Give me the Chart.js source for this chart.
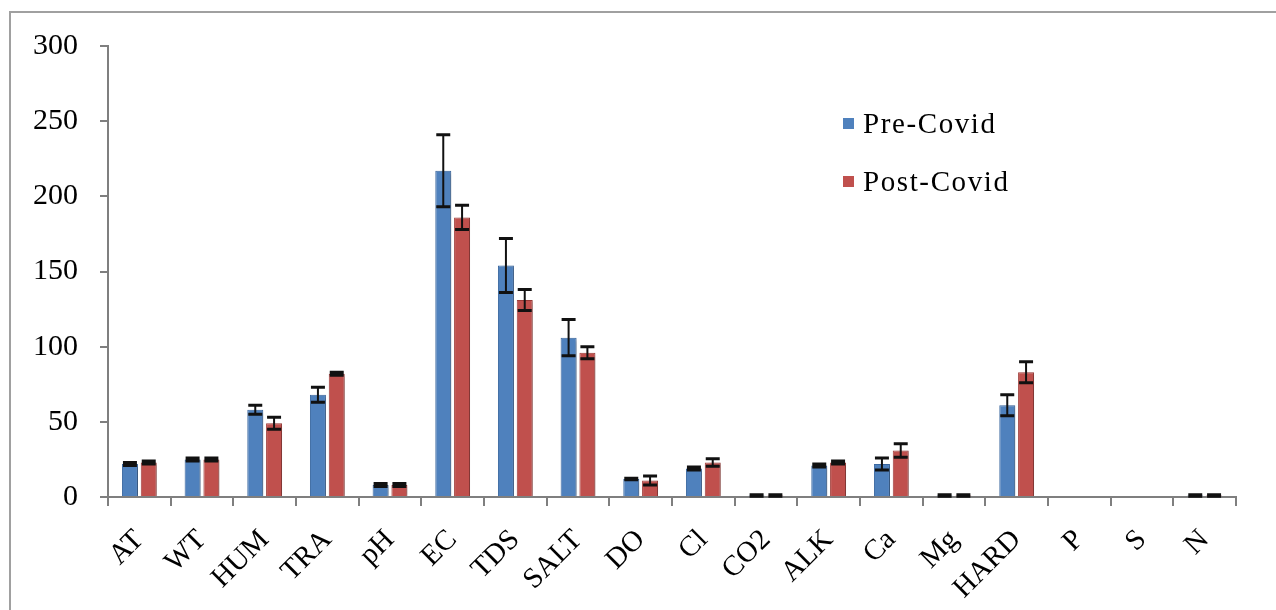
<!DOCTYPE html>
<html>
<head>
<meta charset="utf-8">
<script src="https://cdn.jsdelivr.net/npm/chart.js@4/dist/chart.umd.min.js"></script>
<style>
  html, body { margin: 0; padding: 0; background: #fff; overflow: hidden; }
  #wrap { position: relative; width: 1276px; height: 610px; }
  #frame { position: absolute; left: 9px; top: 11px; width: 1300px; height: 700px; border: 2px solid #a0a0a0; box-sizing: border-box; }
  #chart { position: absolute; left: 0; top: 0; }
  .legend { position: absolute; left: 843px; font-family: "Liberation Serif", "Times New Roman", serif; font-size: 29px; letter-spacing: 1.6px; color: #000; }
  .legend span.box { display: inline-block; width: 11px; height: 11px; margin-right: 9px; vertical-align: 4px; }
</style>
</head>
<body>
<div id="wrap">
  <div id="frame"></div>
  <canvas id="chart" width="1276" height="610"></canvas>
  <div class="legend" style="top:107px"><span class="box" style="background:#4f81bd"></span>Pre-Covid</div>
  <div class="legend" style="top:165px"><span class="box" style="background:#c0504d"></span>Post-Covid</div>
</div>
<script>
const categories = ["AT", "WT", "HUM", "TRA", "pH", "EC", "TDS", "SALT", "DO", "Cl", "CO2", "ALK", "Ca", "Mg", "HARD", "P", "S", "N"];
const preCovid   = [22, 25, 58, 68, 8, 217, 154, 106, 12, 19, 1, 21, 22, 1, 61, 0, 0, 1];
const preErr     = [1, 1, 3, 5, 1, 24, 18, 12, 0.5, 1, 0.5, 1, 4, 0.5, 7, 0, 0, 0.5];
const postCovid  = [23, 25, 49, 82, 8, 186, 131, 96, 11, 23, 1, 23, 31, 1, 83, 0, 0, 1];
const postErr    = [1, 1, 4, 1, 1, 8, 7, 4, 3, 2.5, 0.5, 1, 4.5, 0.5, 7, 0, 0, 0.5];
const yTicks     = [0, 50, 100, 150, 200, 250, 300];

const serif = "'Liberation Serif', 'Times New Roman', serif";

// error bars drawn from the value arrays through the y scale
const errorBars = {
  id: "errorBars",
  afterDatasetsDraw(chart) {
    const ctx = chart.ctx;
    const y = chart.scales.y;
    const errs = [preErr, postErr];
    ctx.save();
    ctx.strokeStyle = "#111";
    chart.data.datasets.forEach((ds, i) => {
      const meta = chart.getDatasetMeta(i);
      meta.data.forEach((bar, j) => {
        const v = ds.data[j];
        const e = errs[i][j];
        if (v === 0 && e === 0) return;
        const top = y.getPixelForValue(v + e);
        const bot = y.getPixelForValue(Math.max(v - e, 0));
        const half = bar.width / 2 - 1;
        ctx.lineWidth = 2;
        ctx.beginPath();
        ctx.moveTo(bar.x, top);
        ctx.lineTo(bar.x, bot);
        ctx.stroke();
        ctx.lineWidth = 3;
        ctx.beginPath();
        ctx.moveTo(bar.x - half, top);
        ctx.lineTo(bar.x + half, top);
        ctx.moveTo(bar.x - half, bot);
        ctx.lineTo(bar.x + half, bot);
        ctx.stroke();
      });
    });
    ctx.restore();
  }
};

// soft shadow on the right of the bars
const barShadow = {
  id: "barShadow",
  beforeDatasetsDraw(chart) {
    const ctx = chart.ctx;
    ctx.save();
    ctx.shadowColor = "rgba(0,0,0,0.22)";
    ctx.shadowOffsetX = 4;
    ctx.shadowOffsetY = 1;
    ctx.shadowBlur = 3;
  },
  afterDatasetsDraw(chart) {
    chart.ctx.restore();
  }
};

new Chart(document.getElementById("chart").getContext("2d"), {
  type: "bar",
  data: {
    labels: categories,
    datasets: [
      {
        label: "Pre-Covid",
        data: preCovid,
        backgroundColor: "#4f81bd",
        borderColor: "#3a679f",
        borderWidth: 1
      },
      {
        label: "Post-Covid",
        data: postCovid,
        backgroundColor: "#c0504d",
        borderColor: "#9e3c39",
        borderWidth: 1
      }
    ]
  },
  options: {
    responsive: false,
    animation: false,
    layout: { padding: { top: 46, right: 40, left: 0, bottom: 0 } },
    plugins: {
      legend: { display: false },
      tooltip: { enabled: false }
    },
    datasets: {
      bar: { categoryPercentage: 0.6, barPercentage: 0.85 }
    },
    scales: {
      x: {
        grid: { drawOnChartArea: false, offset: true, tickLength: 9, color: "#7f7f7f", lineWidth: 2 },
        border: { display: true, color: "#7f7f7f", width: 2 },
        ticks: {
          color: "#000",
          font: { family: serif, size: 29 },
          minRotation: 45,
          maxRotation: 45,
          autoSkip: false,
          padding: 17
        },
        afterFit(scale) { scale.height = 113; }
      },
      y: {
        min: 0,
        max: 300,
        afterBuildTicks(scale) { scale.ticks = yTicks.map(v => ({ value: v })); },
        grid: { drawOnChartArea: false, tickLength: 8, color: "#7f7f7f", lineWidth: 2 },
        border: { display: true, color: "#7f7f7f", width: 2 },
        ticks: {
          color: "#000",
          font: { family: serif, size: 30 },
          padding: 22
        },
        afterFit(scale) { scale.width = 108; }
      }
    }
  },
  plugins: [barShadow, errorBars]
});
</script>
</body>
</html>
